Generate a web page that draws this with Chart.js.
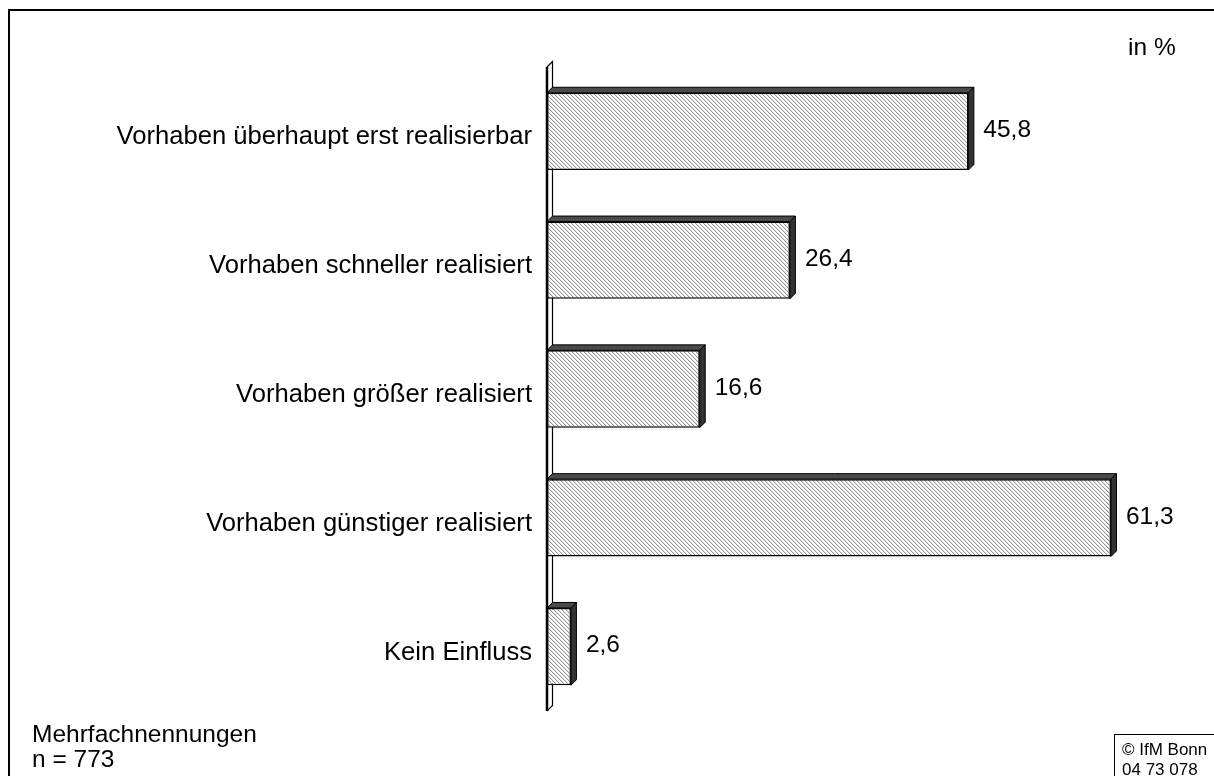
<!DOCTYPE html>
<html>
<head>
<meta charset="utf-8">
<script src="https://cdn.jsdelivr.net/npm/chart.js@4.4.1/dist/chart.umd.min.js"></script>
<style>
  html, body { margin: 0; padding: 0; background: #fff; overflow: hidden; }
  body { width: 1214px; height: 776px; position: relative; font-family: "Liberation Sans", Arial, sans-serif; color: #000; }
  #frame { position: absolute; left: 8px; top: 9px; width: 1400px; height: 1000px; border: 2px solid #000; }
  #chart { position: absolute; left: 0; top: 0; }
  .txt { position: absolute; font-size: 24.5px; line-height: 25px; white-space: nowrap; }
  #unit { left: 1128px; top: 34px; }
  #note { left: 32px; top: 721px; }
  #copy { position: absolute; left: 1114px; top: 734px; width: 200px; height: 100px; border: 1.5px solid #000;
          font-size: 17px; line-height: 20px; padding: 5px 0 0 7px; box-sizing: border-box; white-space: nowrap; }
</style>
</head>
<body>
<div id="frame"></div>
<canvas id="chart" width="1214" height="776"></canvas>
<div class="txt" id="unit">in %</div>
<div class="txt" id="note">Mehrfachnennungen<br>n = 773</div>
<div id="copy">© IfM Bonn<br>04 73 078</div>
<script>
// Werte aus der Grafik
const categories = [
  "Vorhaben überhaupt erst realisierbar",
  "Vorhaben schneller realisiert",
  "Vorhaben größer realisiert",
  "Vorhaben günstiger realisiert",
  "Kein Einfluss"
];
const values = [45.8, 26.4, 16.6, 61.3, 2.6];

const depth = 5.5;
const fontMain = "24.5px 'Liberation Sans', Arial, sans-serif";

// Schraffur-Muster (diagonal)
function makeHatch() {
  const c = document.createElement("canvas");
  c.width = 4;
  c.height = 4;
  const cx = c.getContext("2d");
  cx.fillStyle = "#fff";
  cx.fillRect(0, 0, 4, 4);
  for (let i = 0; i < 4; i++) {
    cx.fillStyle = "#959595";
    cx.fillRect(i, i, 1, 1);
    cx.fillStyle = "#e2e2e2";
    cx.fillRect((i + 1) % 4, i, 1, 1);
  }
  return cx.createPattern(c, "repeat");
}

// 3D-Wand links, Balkenflächen und Werte
const wallPlugin = {
  id: "wall",
  beforeDatasetsDraw(chart) {
    const ctx = chart.ctx;
    const a = chart.chartArea;
    ctx.save();
    ctx.strokeStyle = "#000";
    ctx.lineWidth = 1.2;
    ctx.beginPath();
    ctx.moveTo(a.left, a.top);
    ctx.lineTo(a.left + depth, a.top - depth);
    ctx.lineTo(a.left + depth, a.bottom - depth);
    ctx.lineTo(a.left, a.bottom);
    ctx.stroke();
    ctx.restore();
  },
  afterDatasetsDraw(chart) {
    const ctx = chart.ctx;
    const a = chart.chartArea;
    const meta = chart.getDatasetMeta(0);
    ctx.save();
    meta.data.forEach((bar) => {
      const x0 = bar.base;
      const x1 = bar.x;
      const y0 = bar.y - bar.height / 2;
      const y1 = bar.y + bar.height / 2;
      ctx.fillStyle = "#4a4a4a";
      ctx.strokeStyle = "#000";
      ctx.lineWidth = 1;
      ctx.beginPath();
      ctx.moveTo(x0, y0);
      ctx.lineTo(x0 + depth, y0 - depth);
      ctx.lineTo(x1 + depth, y0 - depth);
      ctx.lineTo(x1, y0);
      ctx.closePath();
      ctx.fill();
      ctx.stroke();
      ctx.fillStyle = "#333";
      ctx.beginPath();
      ctx.moveTo(x1, y0);
      ctx.lineTo(x1 + depth, y0 - depth);
      ctx.lineTo(x1 + depth, y1 - depth);
      ctx.lineTo(x1, y1);
      ctx.closePath();
      ctx.fill();
      ctx.stroke();
    });
    // vordere Wandkante
    ctx.strokeStyle = "#000";
    ctx.lineWidth = 2.5;
    ctx.beginPath();
    ctx.moveTo(a.left, a.top);
    ctx.lineTo(a.left, a.bottom);
    ctx.stroke();
    // Werte neben den Balken
    ctx.fillStyle = "#000";
    ctx.font = fontMain;
    ctx.textAlign = "left";
    ctx.textBaseline = "middle";
    meta.data.forEach((bar, i) => {
      ctx.fillText(values[i].toFixed(1).replace(".", ","), bar.x + 15, bar.y - 1);
    });
    ctx.restore();
  }
};

new Chart(document.getElementById("chart"), {
  type: "bar",
  data: {
    labels: categories,
    datasets: [
      {
        data: values,
        backgroundColor: makeHatch(),
        borderColor: "#000",
        borderWidth: 1.5,
        borderSkipped: false,
        barPercentage: 0.6,
        categoryPercentage: 1
      }
    ]
  },
  options: {
    indexAxis: "y",
    responsive: false,
    animation: false,
    devicePixelRatio: 1,
    layout: { padding: { top: 67, bottom: 65, left: 0, right: 23 } },
    plugins: { legend: { display: false }, tooltip: { enabled: false } },
    scales: {
      x: { min: 0, max: 70, display: false },
      y: {
        grid: { display: false },
        border: { display: false },
        ticks: {
          color: "#000",
          padding: 7,
          labelOffset: 6,
          font: { family: "'Liberation Sans', Arial, sans-serif", size: 25.6 }
        },
        afterFit(scale) {
          scale.width = 547;
        }
      }
    }
  },
  plugins: [wallPlugin]
});
</script>
</body>
</html>
